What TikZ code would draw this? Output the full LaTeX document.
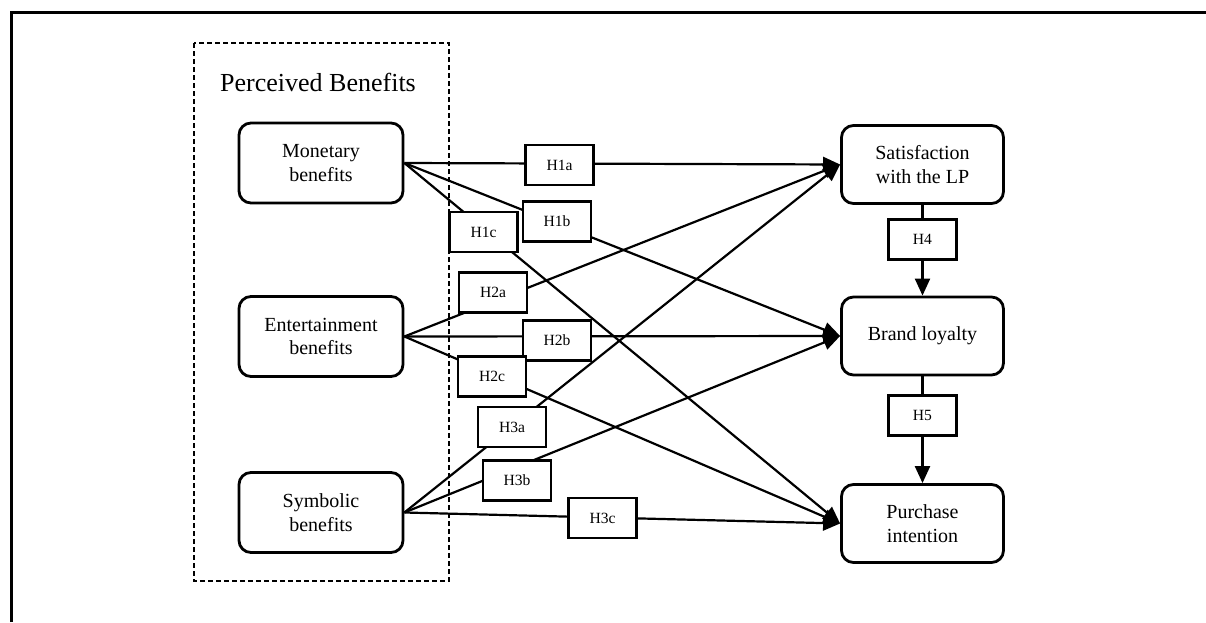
\documentclass[tikz,border=0pt]{standalone}
\usepackage{fontspec}
\setmainfont{Liberation Serif}
\usetikzlibrary{arrows.meta}
\begin{document}
\begin{tikzpicture}[x=0.5pt,y=-0.5pt,
  var/.style={draw, line width=1.4pt, rounded corners=6pt, minimum width=82pt, minimum height=40pt, inner sep=1pt, align=center, font=\fontsize{10}{11.8}\selectfont},
  hyp/.style={draw, line width=1.4pt, fill=white, minimum width=34pt, minimum height=20pt, inner sep=0pt, font=\fontsize{7.8}{9}\selectfont},
  link/.style={line width=1.1pt, -{Triangle[length=8.5pt,width=7.5pt]}},
  plainlink/.style={line width=1.1pt},
  frame/.style={line width=1.5pt},
  group/.style={line width=1.1pt, dash pattern=on 2.5pt off 1.5pt}
]
\useasboundingbox (0,0) rectangle (1206,622);
\draw[frame] (11,622) -- (11,12) -- (1206,12);
\draw[group] (194,43) rectangle (449,581);
\node[font=\fontsize{13}{15}\selectfont, anchor=base] (title) at (318,91) {Perceived Benefits};

\node[var] (mon) at (321,163) {Monetary\\benefits};
\node[var] (ent) at (321,336.5) {Entertainment\\benefits};
\node[var] (sym) at (321,512.5) {Symbolic\\benefits};
\node[var, minimum width=81pt, minimum height=39pt] (sat) at (922.5,164.5) {Satisfaction\\with the LP};
\node[var, minimum width=81pt, minimum height=39pt] (bra) at (922.5,336) {Brand loyalty};
\node[var, minimum width=81pt, minimum height=39pt] (pur) at (922.5,523.5) {Purchase\\intention};

\draw[link] (mon.east) -- (sat.west);
\draw[link] (mon.east) -- (bra.west);
\draw[link] (mon.east) -- (pur.west);
\draw[link] (ent.east) -- (sat.west);
\draw[link] (ent.east) -- (bra.west);
\draw[link] (ent.east) -- (pur.west);
\draw[link] (sym.east) -- (sat.west);
\draw[link] (sym.east) -- (bra.west);
\draw[link] (sym.east) -- (pur.west);

\node[hyp] (h1a) at (559.5,165) {H1a};
\node[hyp] (h1b) at (557,221.5) {H1b};
\node[hyp] (h1c) at (483.5,232) {H1c};
\node[hyp] (h2a) at (493,292.5) {H2a};
\node[hyp] (h2b) at (557,340.5) {H2b};
\node[hyp] (h2c) at (492,376.5) {H2c};
\node[hyp] (h3a) at (512,427) {H3a};
\node[hyp] (h3b) at (517,480.5) {H3b};
\node[hyp] (h3c) at (602.5,518) {H3c};
\node[hyp] (h4) at (922.5,239.5) {H4};
\node[hyp] (h5) at (922.5,415.5) {H5};

\draw[plainlink] (sat.south) -- (h4.north);
\draw[link] (h4.south) -- (bra.north);
\draw[plainlink] (bra.south) -- (h5.north);
\draw[link] (h5.south) -- (pur.north);
\end{tikzpicture}
\end{document}
